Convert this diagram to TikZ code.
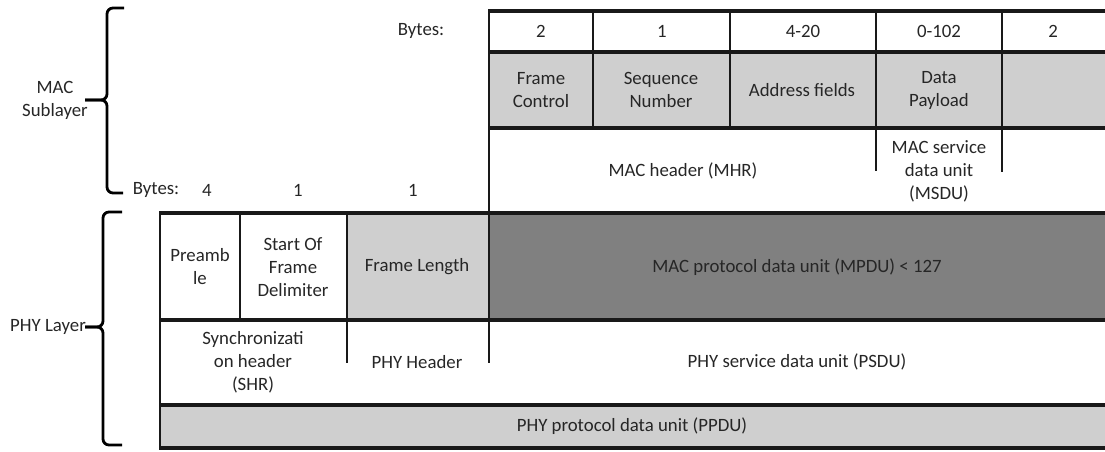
\documentclass[tikz,border=0pt]{standalone}
\usepackage{fontspec}
\setmainfont{Carlito}
\begin{document}
\begin{tikzpicture}[x=1pt,y=-1pt,
  rule/.style={line width=3.4pt,black!90},
  vrule/.style={line width=2.8pt,black!90},
  brace/.style={line width=2.8pt,black,rounded corners=6pt},
  lbl/.style={text=black!85,font=\fontsize{18.8}{23}\selectfont,align=center,inner sep=0pt},
  cellgrey/.style={fill=black!19,draw=none},
  darkgrey/.style={fill=black!50,draw=none}]
\useasboundingbox (0,0) rectangle (1105,452);

% ---- fills ----
\fill[cellgrey] (489,52) rectangle (1105,128);
\fill[cellgrey] (347,213) rectangle (489,320);
\fill[darkgrey] (489,213) rectangle (1105,320);
\fill[cellgrey] (160,405) rectangle (1105,448);

% ---- MAC frame grid ----
\draw[rule] (488,11) -- (1105,11);
\draw[rule] (489,52) -- (1105,52);
\draw[rule] (489,128) -- (1105,128);
\draw[vrule] (489,10) -- (489,363);
\draw[vrule] (593,11) -- (593,128);
\draw[vrule] (730,11) -- (730,128);
\draw[vrule] (876,11) -- (876,171);
\draw[vrule] (1002,11) -- (1002,172);

% ---- PHY frame grid ----
\draw[rule] (159,213) -- (1105,213);
\draw[rule] (160,320) -- (1105,320);
\draw[rule] (160,405) -- (1105,405);
\draw[rule] (159,448) -- (1105,448);
\draw[vrule] (160,212) -- (160,449);
\draw[vrule] (240,213) -- (240,320);
\draw[vrule] (347,213) -- (347,363);

% ---- braces ----
\draw[brace] (124,8) -- (107,8) -- (107,100) -- (85,100);
\draw[brace] (85,100) -- (107,100) -- (107,193) -- (123,193);
\draw[brace] (122,212) -- (103,212) -- (103,327) -- (85,327);
\draw[brace] (85,327) -- (103,327) -- (103,445) -- (122,445);

% ---- MAC labels ----
\node[lbl] (bytesM) at (421,31) {Bytes:};
\node[lbl] (bFC) at (541,31) {2};
\node[lbl] (bSN) at (662,31) {1};
\node[lbl] (bAF) at (803,31) {4-20};
\node[lbl] (bDP) at (939,31) {0-102};
\node[lbl] (bFCS) at (1053,31) {2};
\node[lbl] (fc) at (541,90) {Frame\\Control};
\node[lbl] (sn) at (661,90) {Sequence\\Number};
\node[lbl] (af) at (802,90) {Address fields};
\node[lbl] (dp) at (939,90) {Data\\Payload};
\node[lbl] (mhr) at (683,171) {MAC header (MHR)};
\node[lbl] (msdu) at (939,171) {MAC service\\data unit\\(MSDU)};

% ---- PHY labels ----
\node[lbl] (bytesP) at (156,190) {Bytes:};
\node[lbl] (bPre) at (207,190) {4};
\node[lbl] (bSFD) at (298,190) {1};
\node[lbl] (bFL) at (413,190) {1};
\node[lbl] (pre) at (200,267) {Preamb\\le};
\node[lbl] (sfd) at (293,267) {Start Of\\Frame\\Delimiter};
\node[lbl] (fl) at (417,267) {Frame Length};
\node[lbl] (mpdu) at (797,267) {MAC protocol data unit (MPDU) < 127};
\node[lbl] (shr) at (253,362) {Synchronizati\\on header\\(SHR)};
\node[lbl] (phr) at (417,362) {PHY Header};
\node[lbl] (psdu) at (797,362) {PHY service data unit (PSDU)};
\node[lbl] (ppdu) at (632,426) {PHY protocol data unit (PPDU)};

% ---- layer names ----
\node[lbl] (mac) at (55,100) {MAC\\Sublayer};
\node[lbl,anchor=east] (phy) at (86,327) {PHY Layer};
\end{tikzpicture}
\end{document}
